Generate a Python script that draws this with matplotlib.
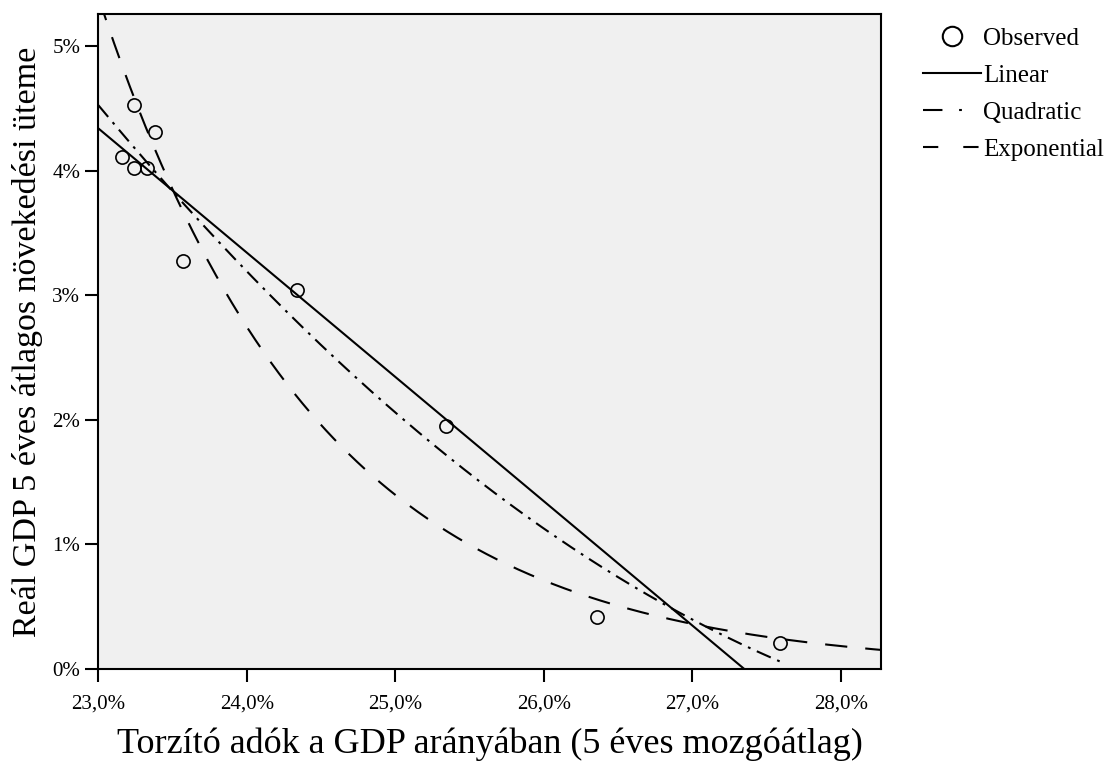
#bibliotecas importadas
import numpy as np
import matplotlib
matplotlib.use("Agg")
import matplotlib.pyplot as plt
from matplotlib.lines import Line2D
from matplotlib.ticker import FuncFormatter

plt.rcParams['font.family'] = ['Liberation Serif', 'DejaVu Serif']
plt.rcParams['lines.scale_dashes'] = False

#Datos (en %)
torzito_adok = [23.16, 23.24, 23.24, 23.33, 23.38, 23.57, 24.34, 25.34, 26.36, 27.59]
gdp_novekedes = [4.11, 4.53, 4.02, 4.02, 4.31, 3.28, 3.04, 1.95, 0.42, 0.21]
x_ticks = [23.0, 24.0, 25.0, 26.0, 27.0, 28.0]
y_ticks = [0, 1, 2, 3, 4, 5]

x = np.array(torzito_adok)
y = np.array(gdp_novekedes)

#Ajustes de curvas (lineal, cuadratica, exponencial)
lin = np.polyfit(x, y, 1)
quad = np.polyfit(x, y, 2)
expo = np.polyfit(x, np.log(y), 1)

xmin, xmax = 23.0, 28.27
xs = np.linspace(xmin, xmax, 400)
xq = np.linspace(xmin, x.max(), 400)

fig = plt.figure(figsize=(11.1, 7.69), dpi=100)
ax = fig.add_axes([0.0886, 0.130, 0.7051, 0.8518])
ax.set_facecolor('#f0f0f0')

ax.plot(xs, np.polyval(lin, xs), color='black', lw=1.5)
ax.plot(xq, np.polyval(quad, xq), color='black', lw=1.5, linestyle=(0, (11, 5, 2, 5)))
ax.plot(xs, np.exp(np.polyval(expo, xs)), color='black', lw=1.5, linestyle=(0, (16, 13)))
ax.plot(x, y, 'o', mfc='none', mec='black', ms=9.5, mew=1.2)

ax.set_xlim(xmin, xmax)
ax.set_ylim(0, 5.26)
ax.set_xticks(x_ticks)
ax.set_yticks(y_ticks)
ax.xaxis.set_major_formatter(FuncFormatter(lambda v, p: f"{v:.1f}%".replace('.', ',')))
ax.yaxis.set_major_formatter(FuncFormatter(lambda v, p: f"{v:.0f}%"))
ax.tick_params(length=9.5, width=1.5, labelsize=15, direction='out')
ax.tick_params(axis='x', pad=9)
for s in ax.spines.values():
    s.set_linewidth(1.5)

ax.set_xlabel("Torzító adók a GDP arányában (5 éves mozgóátlag)", fontsize=26, labelpad=10)
ax.set_ylabel("Reál GDP 5 éves átlagos növekedési üteme", fontsize=24.5, labelpad=7)

#Leyenda
handles = [
    Line2D([], [], marker='o', mfc='none', mec='black', ms=14, mew=1.5, linestyle='none'),
    Line2D([], [], color='black', lw=1.5),
    Line2D([], [], color='black', lw=1.5, linestyle=(0, (14, 12, 2, 30))),
    Line2D([], [], color='black', lw=1.5, linestyle=(0, (11, 18))),
]
labels = ["Observed", "Linear", "Quadratic", "Exponential"]
fig.legend(handles, labels, loc='upper left', bbox_to_anchor=(0.8227, 0.977),
           frameon=False, fontsize=18, handlelength=2.3, handletextpad=0.1,
           labelspacing=0.58, borderaxespad=0)

plt.savefig("out.png", dpi=100)
